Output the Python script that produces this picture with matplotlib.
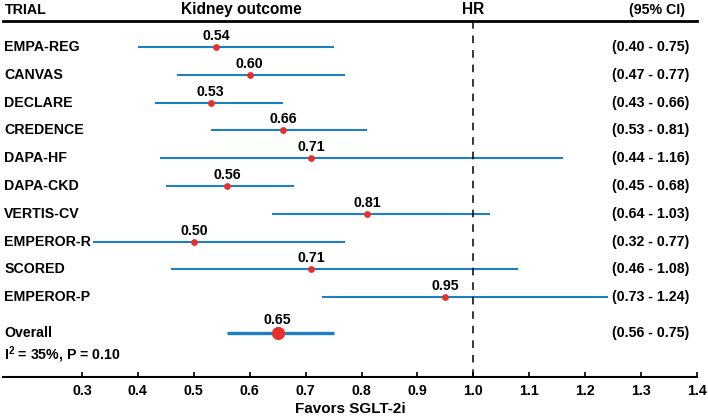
import matplotlib.pyplot as plt

plt.rcParams['font.family'] = ['Liberation Sans', 'DejaVu Sans']
plt.rcParams['font.weight'] = 'bold'
plt.rcParams['mathtext.fontset'] = 'custom'
plt.rcParams['mathtext.bf'] = 'Liberation Sans:bold'
plt.rcParams['mathtext.rm'] = 'Liberation Sans:bold'

# Datos del forest plot
trials = ["EMPA-REG", "CANVAS", "DECLARE", "CREDENCE", "DAPA-HF",
          "DAPA-CKD", "VERTIS-CV", "EMPEROR-R", "SCORED", "EMPEROR-P"]
hr = [0.54, 0.60, 0.53, 0.66, 0.71, 0.56, 0.81, 0.50, 0.71, 0.95]
lo = [0.40, 0.47, 0.43, 0.53, 0.44, 0.45, 0.64, 0.32, 0.46, 0.73]
hi = [0.75, 0.77, 0.66, 0.81, 1.16, 0.68, 1.03, 0.77, 1.08, 1.24]
overall = (0.65, 0.56, 0.75)
het_text = r"I$^{\mathbf{2}}$ = 35%, P = 0.10"
xticks = [0.3, 0.4, 0.5, 0.6, 0.7, 0.8, 0.9, 1.0, 1.1, 1.2, 1.3, 1.4]

azul = "#1b7fc1"
rojo = "#e8302a"
fs = 10.2

fig = plt.figure(figsize=(7.08, 4.18), dpi=100)
ax = fig.add_axes([3 / 708, 0.098, 694 / 708, 0.852])
yt = ax.get_yaxis_transform()

x_izq = 0.002
x_ci = 0.989
y_overall = 10.3
for i in range(len(trials)):
    ax.plot([lo[i], hi[i]], [i, i], color=azul, lw=1.5, solid_capstyle='butt')
    ax.plot(hr[i], i, 'o', color=rojo, ms=4.9, mec='none')
    ax.text(hr[i], i - 0.4, f"{hr[i]:.2f}", ha='center', va='center', fontsize=fs)
    ax.text(x_izq, i, trials[i], transform=yt, ha='left', va='center', fontsize=fs)
    ax.text(x_ci, i, f"({lo[i]:.2f} - {hi[i]:.2f})", transform=yt,
            ha='right', va='center', fontsize=fs)

# fila del total
ax.plot([overall[1], overall[2]], [y_overall, y_overall], color=azul, lw=2.4, solid_capstyle='butt')
ax.plot(overall[0], y_overall, 'o', color=rojo, ms=9.5, mec='none')
ax.text(overall[0], y_overall - 0.47, f"{overall[0]:.2f}", ha='center', va='center', fontsize=fs)
ax.text(x_izq, y_overall, "Overall", transform=yt, ha='left', va='center', fontsize=fs)
ax.text(x_ci, y_overall, f"({overall[1]:.2f} - {overall[2]:.2f})", transform=yt,
        ha='right', va='center', fontsize=fs)
ax.text(x_izq, 11.05, het_text, transform=yt, ha='left', va='center', fontsize=fs)

ax.axvline(1.0, color='black', lw=1.1, ls=(0, (5, 4.5)))

ax.set_xlim(0.1587, 1.4)
ax.set_ylim(11.87, -0.94)

# encabezados
hy = 1.031
ax.text(x_izq, hy, "TRIAL", transform=ax.transAxes, ha='left', va='center', fontsize=fs)
ax.text(0.344, hy, "Kidney outcome", transform=ax.transAxes, ha='center', va='center', fontsize=11.2)
ax.text(1.0, hy, "HR", transform=ax.get_xaxis_transform(), ha='center', va='center', fontsize=11.2)
ax.text(0.942, hy, "(95% CI)", transform=ax.transAxes, ha='center', va='center', fontsize=fs)

for s in ['left', 'right']:
    ax.spines[s].set_visible(False)
ax.spines['top'].set_linewidth(2)
ax.spines['bottom'].set_linewidth(1.5)
ax.set_yticks([])
ax.set_xticks(xticks)
ax.set_xticklabels([f"{t:.1f}" for t in xticks], fontsize=fs)
ax.tick_params(axis='x', direction='in', length=3.5, width=1.2, pad=5)
ax.set_xlabel("Favors SGLT-2i", fontsize=11, fontweight='bold', labelpad=3)

fig.savefig("out.png", dpi=100)
